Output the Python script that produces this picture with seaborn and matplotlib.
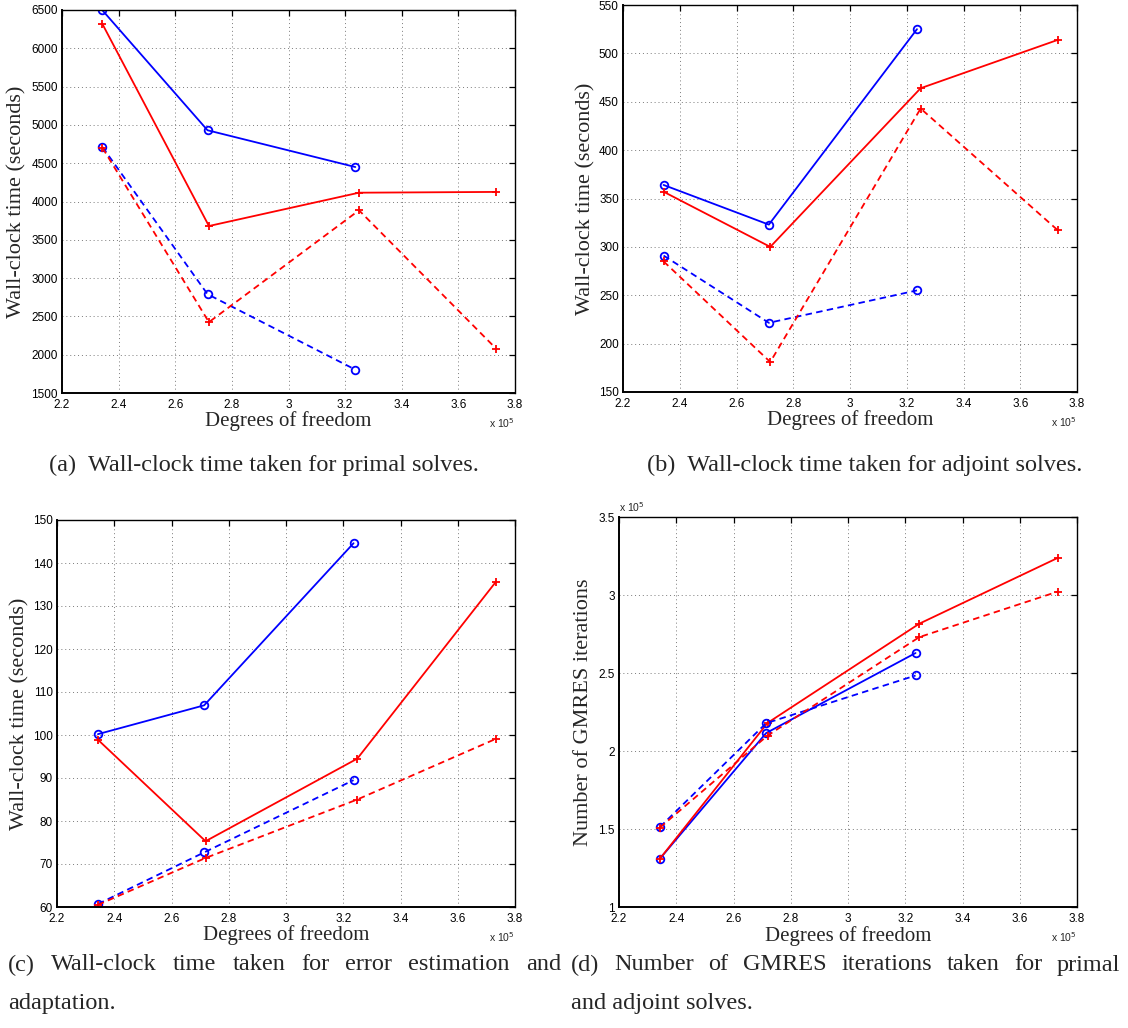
import matplotlib
matplotlib.use("Agg")
import matplotlib.pyplot as plt
from matplotlib.ticker import FuncFormatter, MultipleLocator
import seaborn as sns

# Degrees of freedom on each adaptation cycle (blue: circles, red: crosses)
dof_blue = [234300, 271400, 323600]
dof_red = [234300, 271900, 324900, 373300]

# (a) wall-clock time for primal solves [s]
primal_blue_solid = [6495, 4930, 4450]
primal_red_solid = [6315, 3680, 4115, 4125]
primal_blue_dashed = [4710, 2790, 1805]
primal_red_dashed = [4700, 2425, 3885, 2080]

# (b) wall-clock time for adjoint solves [s]
adjoint_blue_solid = [364, 323, 525]
adjoint_red_solid = [357, 300, 464, 514]
adjoint_blue_dashed = [291, 221.5, 255]
adjoint_red_dashed = [285, 181, 443, 317]

# (c) wall-clock time for error estimation and adaptation [s]
errest_blue_solid = [100.2, 106.9, 144.6]
errest_red_solid = [98.9, 75.3, 94.5, 135.6]
errest_blue_dashed = [60.7, 72.7, 89.5]
errest_red_dashed = [60.5, 71.4, 85.0, 99.1]

# (d) number of GMRES iterations
gmres_blue_solid = [131000, 211500, 262800]
gmres_red_solid = [131000, 218000, 281600, 323800]
gmres_blue_dashed = [151300, 217800, 248400]
gmres_red_dashed = [150900, 209900, 273000, 302200]

x_ticks = [2.2, 2.4, 2.6, 2.8, 3.0, 3.2, 3.4, 3.6, 3.8]
ylabels = ["Wall-clock time (seconds)", "Wall-clock time (seconds)",
           "Wall-clock time (seconds)", "Number of GMRES iterations"]
xlabel = "Degrees of freedom"
captions = [
    ["(a)  Wall-clock time taken for primal solves."],
    ["(b)  Wall-clock time taken for adjoint solves."],
    ["(c) Wall-clock time taken for error estimation and", "adaptation."],
    ["(d) Number of GMRES iterations taken for primal", "and adjoint solves."],
]

sns.set_style("white")
plt.rcParams["font.family"] = ["Liberation Sans", "DejaVu Sans"]

W, H = 1128, 1028
fig = plt.figure(figsize=(W / 100, H / 100), dpi=100)


def px_axes(left, right, top, bottom):
    return fig.add_axes([left / W, 1 - bottom / H, (right - left) / W, (bottom - top) / H])


SERIF = ["Liberation Serif", "DejaVu Serif"]
BLUE, RED = "#0000ff", "#ff0000"
DASH = (0, (3.6, 2.4))
CAP_SIZE = 17.5


def draw_series(ax, x, y, color, marker, ls):
    face = "none" if marker == "o" else color
    sns.lineplot(x=x, y=y, ax=ax, color=color, linestyle=ls, linewidth=1.3,
                 marker=marker, markersize=5.5 if marker == "o" else 6,
                 markerfacecolor=face, markeredgecolor=color,
                 markeredgewidth=1.3, sort=False, estimator=None)


panels = [
    dict(box=(62, 515, 10, 393), ylim=(1500, 6500), ystep=500, ylx=-0.079, yscale=1,
         data=[primal_blue_solid, primal_red_solid, primal_blue_dashed, primal_red_dashed]),
    dict(box=(623, 1077, 5, 392), ylim=(150, 550), ystep=50, ylx=-0.06, yscale=1,
         data=[adjoint_blue_solid, adjoint_red_solid, adjoint_blue_dashed, adjoint_red_dashed]),
    dict(box=(57, 515, 520, 907), ylim=(60, 150), ystep=10, ylx=-0.061, yscale=1,
         data=[errest_blue_solid, errest_red_solid, errest_blue_dashed, errest_red_dashed]),
    dict(box=(619, 1077, 517, 907), ylim=(1e5, 3.5e5), ystep=0.5e5, ylx=-0.057, yscale=1e5,
         data=[gmres_blue_solid, gmres_red_solid, gmres_blue_dashed, gmres_red_dashed]),
]

for i, p in enumerate(panels):
    ax = px_axes(*p["box"])
    b_s, r_s, b_d, r_d = p["data"]
    draw_series(ax, dof_blue, b_s, BLUE, "o", "-")
    draw_series(ax, dof_red, r_s, RED, "+", "-")
    draw_series(ax, dof_blue, b_d, BLUE, "o", DASH)
    draw_series(ax, dof_red, r_d, RED, "+", DASH)

    ax.set_xlim(2.2e5, 3.8e5)
    ax.set_ylim(*p["ylim"])
    ax.set_xticks([t * 1e5 for t in x_ticks])
    ax.yaxis.set_major_locator(MultipleLocator(p["ystep"]))
    ax.xaxis.set_major_formatter(FuncFormatter(lambda v, _: f"{v / 1e5:g}"))
    sc = p["yscale"]
    ax.yaxis.set_major_formatter(FuncFormatter(lambda v, _, s=sc: f"{v / s:g}"))

    ax.grid(True, color="#7a7a7a", linestyle=(0, (1, 3)), linewidth=0.7)
    ax.tick_params(direction="in", length=4, width=0.9, top=True, right=True,
                   labelsize=8.5, colors="black")
    ax.tick_params(axis="x", pad=4.5)
    ax.tick_params(axis="y", pad=3)
    for side in ["left", "bottom"]:
        ax.spines[side].set_linewidth(1.4)
    for side in ["top", "right"]:
        ax.spines[side].set_linewidth(1.0)
    for s in ax.spines.values():
        s.set_color("black")

    ax.set_xlabel(xlabel, fontsize=15, family=SERIF)
    ax.set_ylabel(ylabels[i], fontsize=16, family=SERIF)
    ax.yaxis.set_label_coords(p["ylx"], 0.5)
    ax.xaxis.set_label_coords(0.5, -0.048)

    ax.text(1.0, -0.06, r"x 10$^5$", transform=ax.transAxes, ha="right", va="top",
            fontsize=7.5)
    if sc != 1:
        ax.text(0.0, 1.008, r"x 10$^5$", transform=ax.transAxes, ha="left", va="bottom",
                fontsize=7.5)

# Sub-figure captions
fig.text(264 / W, 1 - 465 / H, captions[0][0], ha="center", va="center",
         fontsize=CAP_SIZE, family=SERIF)
fig.text(865 / W, 1 - 465 / H, captions[1][0], ha="center", va="center",
         fontsize=CAP_SIZE, family=SERIF)

fig.canvas.draw()
renderer = fig.canvas.get_renderer()


def justified_line(text, x0, x1, y):
    """Spread the words of a caption line evenly between x0 and x1 (pixels)."""
    words = text.split(" ")
    artists = [fig.text(0, 1 - y / H, w, ha="left", va="center",
                        fontsize=CAP_SIZE, family=SERIF) for w in words]
    widths = [a.get_window_extent(renderer).width for a in artists]
    gap = (x1 - x0 - sum(widths)) / (len(words) - 1)
    x = x0
    for a, w in zip(artists, widths):
        a.set_x(x / W)
        x += w + gap


for (x0, x1), cap in [((8, 561), captions[2]), ((571, 1120), captions[3])]:
    justified_line(cap[0], x0, x1, 965)
    fig.text(x0 / W, 1 - 1003 / H, cap[1], ha="left", va="center",
             fontsize=CAP_SIZE, family=SERIF)

fig.savefig("out.png", dpi=100, facecolor="white")
